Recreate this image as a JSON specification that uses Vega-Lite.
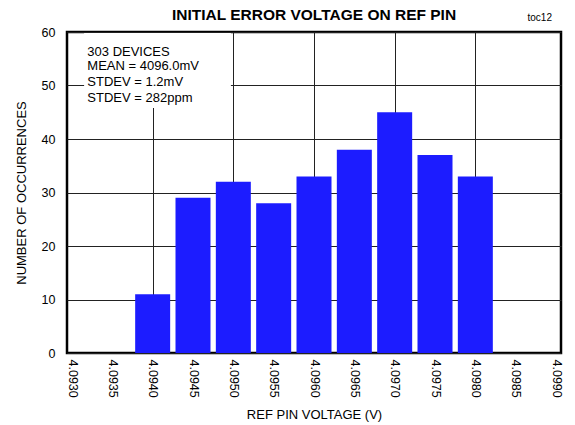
{
  "$schema": "https://vega.github.io/schema/vega-lite/v6.json",
  "width": 494,
  "height": 321,
  "autosize": {"type": "none"},
  "padding": {"left": 67, "top": 32, "right": 14, "bottom": 72},
  "background": "white",
  "config": {
    "font": "Liberation Sans",
    "view": {"stroke": "#000", "strokeWidth": 2.5},
    "axis": {"labelFont": "Liberation Sans", "titleFont": "Liberation Sans", "labelColor": "#000", "titleColor": "#000", "labelFontSize": 12.5, "titleFontSize": 13, "titleFontWeight": "normal", "domain": false, "ticks": false, "gridColor": "#222", "gridOpacity": 1, "gridWidth": 1}
  },
  "title": {"text": "INITIAL ERROR VOLTAGE ON REF PIN", "fontSize": 15.5, "fontWeight": "bold", "font": "Liberation Sans", "color": "#000", "offset": -10, "anchor": "middle"},
  "datasets": {
    "bars": [
      {"v": 4.0940, "n": 11},
      {"v": 4.0945, "n": 29},
      {"v": 4.0950, "n": 32},
      {"v": 4.0955, "n": 28},
      {"v": 4.0960, "n": 33},
      {"v": 4.0965, "n": 38},
      {"v": 4.0970, "n": 45},
      {"v": 4.0975, "n": 37},
      {"v": 4.0980, "n": 33}
    ],
    "box": [{"x1": 4.09315, "x2": 4.09497, "y1": 45.8, "y2": 59.8}],
    "notes": [
      {"x": 4.09319, "y": 56.3, "t": "303 DEVICES"},
      {"x": 4.09319, "y": 53.6, "t": "MEAN = 4096.0mV"},
      {"x": 4.09319, "y": 50.7, "t": "STDEV = 1.2mV"},
      {"x": 4.09319, "y": 47.7, "t": "STDEV = 282ppm"}
    ],
    "tag": [{"x": 4.09895, "y": 62.6, "t": "toc12"}]
  },
  "layer": [
    {
      "data": {"name": "bars"},
      "mark": {"type": "bar", "size": 35, "color": "#1c1cff"},
      "encoding": {
        "x": {"field": "v", "type": "quantitative", "scale": {"domain": [4.093, 4.099], "nice": false, "zero": false},
          "axis": {"values": [4.093, 4.0935, 4.094, 4.0945, 4.095, 4.0955, 4.096, 4.0965, 4.097, 4.0975, 4.098, 4.0985, 4.099], "format": ".4f", "labelAngle": 90, "labelPadding": 6, "title": "REF PIN VOLTAGE (V)", "titlePadding": 11,
            "gridOpacity": {"condition": {"test": "abs(round(datum.value*10000) % 10) == 0 && datum.value > 4.0931 && datum.value < 4.0989", "value": 1}, "value": 0}}},
        "y": {"field": "n", "type": "quantitative", "scale": {"domain": [0, 60], "nice": false},
          "axis": {"values": [0, 10, 20, 30, 40, 50, 60], "title": "NUMBER OF OCCURRENCES", "labelPadding": 12, "titlePadding": 13}}
      }
    },
    {
      "data": {"name": "box"},
      "mark": {"type": "rect", "color": "white"},
      "encoding": {
        "x": {"field": "x1", "type": "quantitative"},
        "x2": {"field": "x2"},
        "y": {"field": "y1", "type": "quantitative"},
        "y2": {"field": "y2"}
      }
    },
    {
      "data": {"name": "notes"},
      "mark": {"type": "text", "align": "left", "baseline": "middle", "fontSize": 13, "color": "#000"},
      "encoding": {
        "x": {"field": "x", "type": "quantitative"},
        "y": {"field": "y", "type": "quantitative"},
        "text": {"field": "t"}
      }
    },
    {
      "data": {"name": "tag"},
      "mark": {"type": "text", "align": "right", "baseline": "middle", "fontSize": 10, "color": "#000", "clip": false},
      "encoding": {
        "x": {"field": "x", "type": "quantitative"},
        "y": {"field": "y", "type": "quantitative"},
        "text": {"field": "t"}
      }
    }
  ]
}
